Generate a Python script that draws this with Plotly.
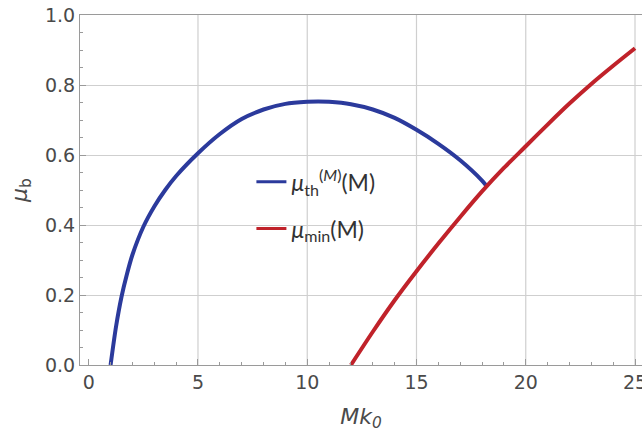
import plotly.graph_objects as go

# ---- data ----
blue_x = [1.0, 1.25, 1.5, 1.75, 2.0, 2.5, 3.0, 3.5, 4.0, 5.0, 6.0, 7.0, 8.0, 9.0,
          10.0, 10.5, 11.0, 12.0, 13.0, 14.0, 15.0, 16.0, 17.0, 18.0, 18.2]
blue_y = [0.0, 0.11, 0.195, 0.26, 0.315, 0.395, 0.453, 0.50, 0.54, 0.605, 0.66, 0.703,
          0.73, 0.746, 0.752, 0.753, 0.752, 0.745, 0.73, 0.706, 0.672, 0.632, 0.585,
          0.527, 0.512]
red_x = [12, 13, 14, 15, 16, 17, 18, 19, 20, 21, 22, 23, 24, 25]
red_y = [0.0, 0.095, 0.185, 0.268, 0.347, 0.423, 0.496, 0.563, 0.625, 0.687, 0.747,
         0.803, 0.855, 0.905]

x_ticks = [0, 5, 10, 15, 20, 25]
x_grid = [5, 10, 15, 20, 25]
y_ticks = [0.0, 0.2, 0.4, 0.6, 0.8, 1.0]

blue_name = "<i>μ</i><sub>th</sub><sup>(<i>M</i>)</sup>(M)"
red_name = "<i>μ</i><sub>min</sub>(M)"

BLUE = "#2b3a9c"
RED = "#c0222a"
GRID = "#cfcfcf"
AXIS = "#9a9a9a"
TEXT = "#4a4a4a"
TICKFONT = "DejaVu Sans, Liberation Sans, sans-serif"

fig = go.Figure()
fig.add_trace(go.Scatter(x=blue_x, y=blue_y, mode="lines", showlegend=False,
                         line=dict(color=BLUE, width=4, shape="spline", smoothing=0.8)))
fig.add_trace(go.Scatter(x=red_x, y=red_y, mode="lines", showlegend=False,
                         line=dict(color=RED, width=4, shape="spline", smoothing=0.8)))
# legend entries (thin legend keys as in the reference)
fig.add_trace(go.Scatter(x=[None], y=[None], mode="lines", name=blue_name,
                         line=dict(color=BLUE, width=3), legendgroup="a"))
fig.add_trace(go.Scatter(x=[None], y=[None], mode="lines", name=red_name,
                         line=dict(color=RED, width=3), legendgroup="b"))

for gx in x_grid:
    fig.add_shape(type="line", xref="x", yref="paper", x0=gx, x1=gx, y0=0, y1=1,
                  line=dict(color=GRID, width=1.2), layer="below")

fig.update_layout(
    width=642, height=441,
    margin=dict(l=80, r=0, t=15, b=76),
    paper_bgcolor="white", plot_bgcolor="white",
    showlegend=True,
    legend=dict(x=0.305, y=0.585, xanchor="left", yanchor="top",
                bgcolor="rgba(0,0,0,0)", tracegroupgap=14, itemwidth=30,
                font=dict(family="Lato, Open Sans, sans-serif", size=23, color="#333333")),
    font=dict(family=TICKFONT, color=TEXT),
)

fig.update_xaxes(
    range=[-0.40, 25.32], tickvals=x_ticks, showgrid=False, zeroline=False,
    showline=True, linecolor=AXIS, linewidth=1, mirror=True,
    ticks="inside", ticklen=6, tickcolor=AXIS, ticklabeloverflow="allow",
    minor=dict(dtick=1, ticks="inside", ticklen=3, tickcolor=AXIS, showgrid=False),
    tickfont=dict(size=19, color=TEXT, family=TICKFONT), automargin=False,
    title=dict(text="<i>Mk<sub>0</sub></i>", font=dict(size=22, color=TEXT, family=TICKFONT),
               standoff=16),
)
fig.update_yaxes(
    range=[0, 1.0], tickvals=y_ticks, tickformat=".1f",
    showgrid=True, gridcolor=GRID, gridwidth=1.2, zeroline=False,
    showline=True, linecolor=AXIS, linewidth=1, mirror=False,
    ticks="inside", ticklen=6, tickcolor=AXIS, ticklabeloverflow="allow",
    minor=dict(dtick=0.05, ticks="inside", ticklen=3, tickcolor=AXIS, showgrid=False),
    tickfont=dict(size=19, color=TEXT, family=TICKFONT), automargin=False,
    title=dict(text="<i>μ</i><sub>b</sub>", font=dict(size=22, color=TEXT, family=TICKFONT),
               standoff=11),
)

fig.write_html("out.html", config={"displayModeBar": False},
               post_script="document.body.style.margin='0';")
